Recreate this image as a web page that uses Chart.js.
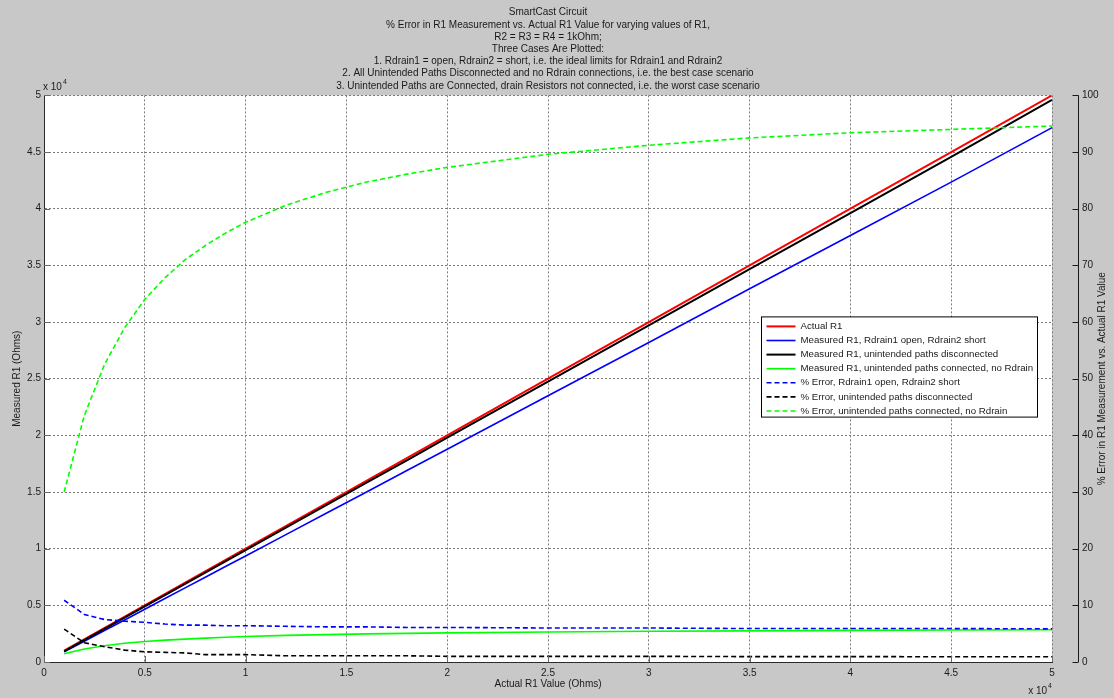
<!DOCTYPE html>
<html>
<head>
<meta charset="utf-8">
<title>SmartCast Circuit</title>
<script src="https://cdn.jsdelivr.net/npm/chart.js@4.4.1/dist/chart.umd.min.js"></script>
<style>
  html, body { margin: 0; padding: 0; background: #c8c8c8; }
  #wrap { width: 1114px; height: 698px; position: relative; }
  canvas { display: block; }
</style>
</head>
<body>
<div id="wrap"><canvas id="chart" width="1114" height="698"></canvas></div>
<script>
// ---- Data -------------------------------------------------------------
// Actual R1 (Ohms): the ideal line, measured = actual
const actualR1 = [1000, 5000, 10000, 15000, 20000, 25000, 30000, 35000, 40000, 45000, 50000];

// R1 sample points (Ohms) for the measured / error curves
const r1Samples = [1000, 2000, 3000, 4000, 5000, 6000, 7000, 8000, 9000, 10000,
                   12000, 14000, 16000, 18000, 20000, 25000, 30000, 35000, 40000, 45000, 50000];

// Measured R1 (Ohms)
const measuredOpenShort = [891, 1832, 2775, 3712, 4650, 5598, 6545, 7480, 8424, 9360,
                           11244, 13132, 15008, 16902, 18780, 23500, 28200, 32935, 37640, 42345, 47150];
const measuredDisconnected = [942, 1932, 2919, 3916, 4910, 5898, 6888, 7896, 8883, 9870,
                              11868, 13846, 15824, 17802, 19800, 24750, 29700, 34667, 39620, 44580, 49600];
const measuredConnected = [720, 1150, 1440, 1660, 1810, 1930, 2020, 2110, 2180, 2250,
                           2350, 2420, 2480, 2530, 2570, 2650, 2710, 2750, 2790, 2820, 2840];

// % error in the R1 measurement
const errorOpenShort = [10.9, 8.4, 7.5, 7.2, 7.0, 6.7, 6.5, 6.5, 6.4, 6.4,
                        6.3, 6.2, 6.2, 6.1, 6.1, 6.0, 6.0, 5.9, 5.9, 5.9, 5.85];
const errorDisconnected = [5.8, 3.4, 2.7, 2.1, 1.8, 1.7, 1.6, 1.3, 1.3, 1.3,
                           1.1, 1.1, 1.1, 1.1, 1.0, 1.0, 1.0, 0.95, 0.95, 0.93, 0.93];
const errorConnected = [30.0, 43.5, 52.5, 59.0, 64.0, 67.8, 71.0, 73.5, 75.7, 77.6,
                        80.6, 82.9, 84.7, 86.1, 87.3, 89.6, 91.2, 92.5, 93.4, 94.0, 94.6];

// Axis tick settings
const ohmTicks = { min: 0, max: 50000, step: 5000, exponent: 4 };
const errorTicks = { min: 0, max: 100, step: 10 };

const titleLines = [
  'SmartCast Circuit',
  '% Error in R1 Measurement vs. Actual R1 Value for varying values of R1,',
  'R2 = R3 = R4 = 1kOhm;',
  'Three Cases Are Plotted:',
  '1. Rdrain1 = open, Rdrain2 = short, i.e. the ideal limits for Rdrain1 and Rdrain2',
  '2. All Unintended Paths Disconnected and no Rdrain connections, i.e. the best case scenario',
  '3. Unintended Paths are Connected, drain Resistors not connected, i.e. the worst case scenario'
];

// ---- Helpers ----------------------------------------------------------
const FONT = 'Arial, "Liberation Sans", Helvetica, sans-serif';
const TEXT = '#1a1a1a';
const GRID = '#7a7a7a';
const DASH = [5, 3];
const FS = 10;

Chart.defaults.font.family = FONT;
Chart.defaults.font.size = FS;
Chart.defaults.color = TEXT;

const pairs = (xs, ys) => xs.map((x, i) => ({ x, y: ys[i] }));
const scaled = v => String(+(v / Math.pow(10, ohmTicks.exponent)).toFixed(2));

function series(label, xs, ys, color, axis, dashed, order, width) {
  return {
    label,
    data: pairs(xs, ys),
    borderColor: color,
    backgroundColor: color,
    borderWidth: width || 1.6,
    borderDash: dashed ? DASH : [],
    pointRadius: 0,
    tension: 0,
    fill: false,
    yAxisID: axis,
    order
  };
}

// ---- Plugins ----------------------------------------------------------
const figureBackground = {
  id: 'figureBackground',
  beforeDraw(chart) {
    const { ctx, chartArea: a } = chart;
    ctx.save();
    ctx.fillStyle = '#c8c8c8';
    ctx.fillRect(0, 0, chart.width, chart.height);
    ctx.fillStyle = '#ffffff';
    ctx.fillRect(a.left, a.top, a.right - a.left, a.bottom - a.top);
    ctx.restore();
  }
};

// inward tick marks, detached right axis, exponent labels, right title
const axisDecor = {
  id: 'axisDecor',
  afterDraw(chart) {
    const { ctx, chartArea: a, scales } = chart;
    ctx.save();
    // inward tick marks on the left and bottom axes
    ctx.strokeStyle = '#6a6a6a';
    ctx.lineWidth = 1;
    ctx.beginPath();
    scales.y.ticks.forEach(t => {
      const py = Math.round(scales.y.getPixelForValue(t.value)) + 0.5;
      ctx.moveTo(a.left, py); ctx.lineTo(a.left + 6, py);
    });
    scales.x.ticks.forEach(t => {
      const px = Math.round(scales.x.getPixelForValue(t.value)) + 0.5;
      ctx.moveTo(px, a.bottom); ctx.lineTo(px, a.bottom - 6);
    });
    ctx.stroke();

    // right-hand % error axis, drawn apart from the plot box
    const y2 = scales.y2;
    const ax = a.right + 26.5;
    ctx.strokeStyle = '#1a1a1a';
    ctx.beginPath();
    ctx.moveTo(ax, y2.getPixelForValue(errorTicks.max));
    ctx.lineTo(ax, y2.getPixelForValue(errorTicks.min));
    y2.ticks.forEach(t => {
      const py = Math.round(y2.getPixelForValue(t.value)) + 0.5;
      ctx.moveTo(ax, py); ctx.lineTo(ax - 6, py);
    });
    ctx.stroke();

    // right axis title (reads bottom to top)
    ctx.fillStyle = TEXT;
    ctx.font = FS + 'px ' + FONT;
    ctx.textAlign = 'center';
    ctx.textBaseline = 'middle';
    ctx.save();
    ctx.translate(a.right + 50, (a.top + a.bottom) / 2);
    ctx.rotate(-Math.PI / 2);
    ctx.fillText('% Error in R1 Measurement vs. Actual R1 Value', 0, 0);
    ctx.restore();

    // "x 10^4" multipliers
    const multiplier = (x, y, alignRight) => {
      ctx.font = FS + 'px ' + FONT;
      const base = 'x 10';
      const w = ctx.measureText(base).width;
      ctx.font = '7px ' + FONT;
      const ew = ctx.measureText(String(ohmTicks.exponent)).width;
      const x0 = alignRight ? x - w - ew - 1 : x;
      ctx.textAlign = 'left';
      ctx.font = FS + 'px ' + FONT;
      ctx.fillText(base, x0, y);
      ctx.font = '7px ' + FONT;
      ctx.fillText(String(ohmTicks.exponent), x0 + w + 1, y - 5);
    };
    multiplier(a.left - 1, a.top - 8, false);
    multiplier(a.right, a.bottom + 29, true);
    ctx.restore();
  }
};

// boxed legend inside the plot
const boxedLegend = {
  id: 'boxedLegend',
  afterDatasetsDraw(chart) {
    const { ctx, chartArea: a } = chart;
    const ds = chart.data.datasets;
    const w = 276, rowH = 14.1, h = 8 + ds.length * rowH - 6.5;
    const left = a.right - 14.5 - w, top = a.top + 221.5;
    ctx.save();
    ctx.fillStyle = '#ffffff';
    ctx.fillRect(left, top, w, h);
    ctx.strokeStyle = '#000000';
    ctx.lineWidth = 1;
    ctx.strokeRect(left, top, w, h);
    ctx.font = '9.7px ' + FONT;
    ctx.textBaseline = 'middle';
    ctx.textAlign = 'left';
    ds.forEach((d, i) => {
      const y = top + 9.5 + i * rowH;
      ctx.strokeStyle = d.borderColor;
      ctx.lineWidth = d.borderWidth;
      ctx.setLineDash(d.borderDash || []);
      ctx.beginPath();
      ctx.moveTo(left + 5, y);
      ctx.lineTo(left + 34, y);
      ctx.stroke();
      ctx.setLineDash([]);
      ctx.fillStyle = TEXT;
      ctx.fillText(d.label, left + 39, y);
    });
    ctx.restore();
  }
};

// ---- Chart ------------------------------------------------------------
new Chart(document.getElementById('chart'), {
  type: 'line',
  data: {
    datasets: [
      series('Actual R1', actualR1, actualR1, '#ff0000', 'y', false, 7, 2),
      series('Measured R1, Rdrain1 open, Rdrain2 short', r1Samples, measuredOpenShort, '#0000ff', 'y', false, 6),
      series('Measured R1, unintended paths disconnected', r1Samples, measuredDisconnected, '#000000', 'y', false, 5, 2),
      series('Measured R1, unintended paths connected, no Rdrain', r1Samples, measuredConnected, '#00ff00', 'y', false, 4),
      series('% Error, Rdrain1 open, Rdrain2 short', r1Samples, errorOpenShort, '#0000ff', 'y2', true, 3),
      series('% Error, unintended paths disconnected', r1Samples, errorDisconnected, '#000000', 'y2', true, 2),
      series('% Error, unintended paths connected, no Rdrain', r1Samples, errorConnected, '#00ff00', 'y2', true, 1)
    ]
  },
  options: {
    responsive: false,
    animation: false,
    devicePixelRatio: 1,
    layout: { padding: 0 },
    plugins: {
      legend: { display: false },
      tooltip: { enabled: false },
      title: {
        display: true,
        fullSize: false,
        text: titleLines,
        color: TEXT,
        font: { size: FS, weight: 'normal', lineHeight: '12.2px' },
        padding: { top: 6.5, bottom: 3.5 }
      }
    },
    scales: {
      x: {
        type: 'linear',
        min: ohmTicks.min, max: ohmTicks.max,
        ticks: { stepSize: ohmTicks.step, callback: scaled, padding: 5, maxRotation: 0, autoSkip: false, color: TEXT },
        grid: { color: GRID, drawTicks: false },
        border: { display: true, color: '#2a2a2a', width: 1, dash: [2, 2] },
        title: { display: true, text: 'Actual R1 Value (Ohms)', color: TEXT, padding: { top: 0, bottom: 5 } },
        afterFit(s) { s.height = 33; }
      },
      y: {
        type: 'linear', position: 'left',
        min: ohmTicks.min, max: ohmTicks.max,
        ticks: { stepSize: ohmTicks.step, callback: scaled, padding: 3, color: TEXT },
        grid: { color: GRID, drawTicks: false },
        border: { display: true, color: '#2a2a2a', width: 1, dash: [2, 2] },
        title: { display: true, text: 'Measured R1 (Ohms)', color: TEXT, padding: { top: 11, bottom: 0 } },
        afterFit(s) { s.width = 44; }
      },
      y2: {
        type: 'linear', position: 'right',
        min: errorTicks.min, max: errorTicks.max,
        ticks: { stepSize: errorTicks.step, padding: 30, color: TEXT },
        grid: { drawOnChartArea: false, drawTicks: false },
        border: { display: false },
        afterFit(s) { s.width = 62; }
      }
    }
  },
  plugins: [figureBackground, boxedLegend, axisDecor]
});
</script>
</body>
</html>
